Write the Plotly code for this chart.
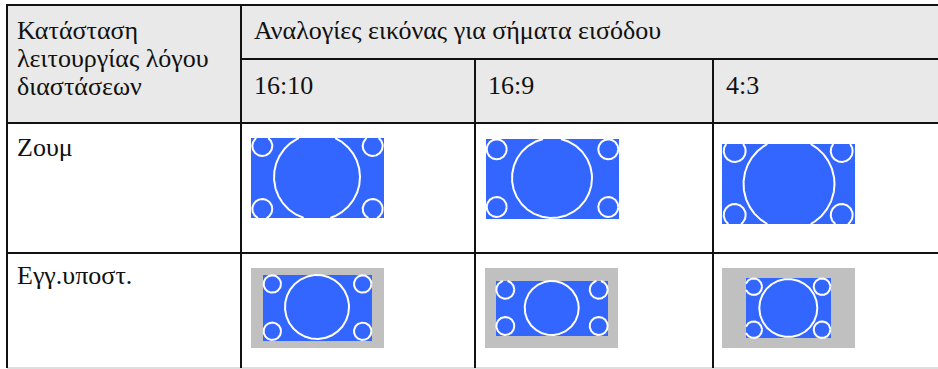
import numpy as np
import plotly.graph_objects as go

# ---- data (table content) ----
corner_lines = ["Κατάσταση", "λειτουργίας λόγου", "διαστάσεων"]
group_header = "Αναλογίες εικόνας για σήματα εισόδου"
ratio_labels = ["16:10", "16:9", "4:3"]
mode_labels = ["Ζουμ", "Εγγ.υποστ."]

# ---- geometry / style (pixel layout) ----
W, H = 938, 369
FONT = "Liberation Serif"
FS = 26
BLUE = "#3366ff"
GRAY = "#c0c0c0"
HEAD_BG = "#e9e9e9"
LINE = "#111111"

col_x = [7, 241, 475, 713, 938]
row_y = [5, 59, 123, 253, 368]

icons = {
    (0, 0): dict(panel=None, img=(251, 138, 384, 218), big=(317, 177, 43),
                 small=[(262.3, 146), (372.7, 146), (262.3, 209), (372.7, 209)], sr=10),
    (0, 1): dict(panel=None, img=(486, 139, 619, 219), big=(552, 178, 40),
                 small=[(496.7, 149.3), (608.3, 149.3), (496.7, 207), (608.3, 207)], sr=10),
    (0, 2): dict(panel=None, img=(722, 144, 855, 224), big=(789, 184, 45.5),
                 small=[(734.7, 151), (841.7, 151), (734.7, 215), (841.7, 215)], sr=11),
    (1, 0): dict(panel=(251, 268, 384, 348), img=(263, 275, 372, 341), big=(317, 307, 32),
                 small=[(272.3, 284), (362.7, 284), (272.3, 331.3), (362.7, 331.3)], sr=8.7),
    (1, 1): dict(panel=(485, 268, 618, 348), img=(496, 281, 608, 336), big=(551.7, 308, 27),
                 small=[(505.3, 289.7), (598.7, 289.7), (505.3, 326), (598.7, 326)], sr=9),
    (1, 2): dict(panel=(722, 268, 855, 348), img=(746, 278, 831, 338), big=(788.3, 308, 29),
                 small=[(753.7, 286.7), (822, 286.7), (753.7, 329.7), (822, 329.7)], sr=8.3),
}

fig = go.Figure()
shapes = []
annotations = []

shapes.append(dict(type="rect", x0=col_x[0], x1=W, y0=row_y[0], y1=row_y[2],
                   fillcolor=HEAD_BG, line=dict(width=0), layer="below"))


def circle_trace(cx, cy, r, rect):
    t = np.linspace(0, 2 * np.pi, 721)
    xs = cx + r * np.cos(t)
    ys = cy + r * np.sin(t)
    x0, y0, x1, y1 = rect
    m = (xs < x0) | (xs > x1) | (ys < y0) | (ys > y1)
    xs = xs.astype(float)
    ys = ys.astype(float)
    xs[m] = np.nan
    ys[m] = np.nan
    return go.Scatter(x=xs, y=ys, mode="lines", line=dict(color="white", width=2),
                      hoverinfo="skip", showlegend=False, connectgaps=False)


for (r, c), ic in icons.items():
    if ic["panel"]:
        x0, y0, x1, y1 = ic["panel"]
        shapes.append(dict(type="rect", x0=x0, x1=x1, y0=y0, y1=y1,
                           fillcolor=GRAY, line=dict(width=0), layer="below"))
    x0, y0, x1, y1 = ic["img"]
    shapes.append(dict(type="rect", x0=x0, x1=x1, y0=y0, y1=y1,
                       fillcolor=BLUE, line=dict(width=0), layer="below"))
    cx, cy, rr = ic["big"]
    fig.add_trace(circle_trace(cx, cy, rr, ic["img"]))
    for (sx, sy) in ic["small"]:
        fig.add_trace(circle_trace(sx, sy, ic["sr"], ic["img"]))


def hline(y, x0, x1, color=LINE, w=2):
    shapes.append(dict(type="line", x0=x0, x1=x1, y0=y, y1=y,
                       line=dict(color=color, width=w), layer="above"))


def vline(x, y0, y1, color=LINE, w=2):
    shapes.append(dict(type="line", x0=x, x1=x, y0=y0, y1=y1,
                       line=dict(color=color, width=w), layer="above"))


hline(row_y[0], col_x[0] - 1, W)
hline(row_y[1], col_x[1], W)
hline(row_y[2], col_x[0] - 1, W)
hline(row_y[3], col_x[0] - 1, W)
hline(row_y[4], col_x[0], W, color="#bdbdbd", w=1)
vline(col_x[0], row_y[0], row_y[4])
vline(col_x[1], row_y[0], row_y[4])
vline(col_x[2], row_y[1], row_y[4])
vline(col_x[3], row_y[1], row_y[4])


def text(x, baseline, s):
    annotations.append(dict(x=x, y=baseline - 4.5, xref="x", yref="y", text=s,
                            showarrow=False, xanchor="left", yanchor="middle",
                            font=dict(family=FONT, size=FS, color="#111111")))


TX = 8
for i, s in enumerate(corner_lines):
    text(col_x[0] + TX, 35 + i * 28, s)
text(col_x[1] + 11, 35, group_header)
for i, s in enumerate(ratio_labels):
    text(col_x[i + 1] + 11, 90, s)
text(col_x[0] + TX, 152, mode_labels[0])
text(col_x[0] + TX, 280, mode_labels[1])

fig.update_layout(
    width=W, height=H, margin=dict(l=0, r=0, t=0, b=0),
    paper_bgcolor="white", plot_bgcolor="white",
    xaxis=dict(range=[0, W], visible=False, fixedrange=True),
    yaxis=dict(range=[H, 0], visible=False, fixedrange=True),
    shapes=shapes, annotations=annotations, showlegend=False,
)
fig.write_html("out.html", config=dict(displayModeBar=False),
               post_script="document.body.style.margin='0px';document.body.style.overflow='hidden';")
